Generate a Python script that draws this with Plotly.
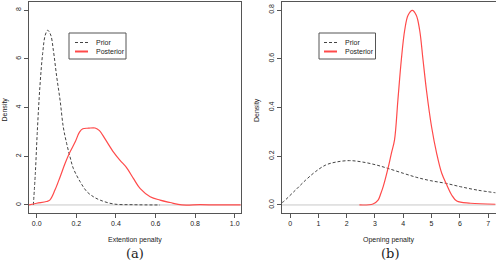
import plotly.graph_objects as go

# ---- Panel (a): Extention penalty ----
prior_a_x = [-0.017, -0.007, 0.0025, 0.016, 0.030, 0.043, 0.0555, 0.071, 0.084, 0.101, 0.118,
             0.134, 0.151, 0.168, 0.185, 0.219, 0.253, 0.286, 0.320, 0.388, 0.489, 0.623]
prior_a_y = [0.0, 1.30, 2.94, 4.85, 6.22, 6.97, 7.17, 6.97, 6.35, 5.26, 4.30,
             3.21, 2.53, 1.98, 1.50, 0.96, 0.55, 0.34, 0.20, 0.04, 0.01, 0.0]
post_a_x = [-0.04, 0.0, 0.049, 0.066, 0.092, 0.118, 0.143, 0.168, 0.194, 0.216, 0.233, 0.261,
            0.295, 0.317, 0.346, 0.388, 0.421, 0.452, 0.489, 0.523, 0.573, 0.623, 0.674,
            0.733, 0.826, 0.91, 1.03]
post_a_y = [0.0, 0.07, 0.14, 0.20, 0.61, 1.15, 1.70, 2.17, 2.58, 2.99, 3.13, 3.15,
            3.16, 3.05, 2.70, 2.17, 1.83, 1.55, 1.08, 0.67, 0.34, 0.20, 0.10,
            0.0, 0.01, 0.0, 0.0]

# ---- Panel (b): Opening penalty ----
prior_b_x = [-0.28, -0.23, 0.19, 0.55, 0.90, 1.26, 1.62, 2.10, 2.57, 3.05, 3.46, 4.0,
             4.48, 4.95, 5.49, 6.02, 6.62, 7.27]
prior_b_y = [0.010, 0.014, 0.061, 0.102, 0.137, 0.164, 0.176, 0.182, 0.176, 0.164, 0.150, 0.130,
             0.113, 0.100, 0.089, 0.075, 0.061, 0.050]
post_b_x = [2.45, 2.93, 3.11, 3.21, 3.29, 3.46, 3.58, 3.69, 3.81, 3.93, 4.05, 4.17, 4.32,
            4.46, 4.58, 4.70, 4.82, 5.0, 5.18, 5.36, 5.54, 5.71, 5.89, 6.38, 7.27]
post_b_y = [0.0, 0.004, 0.02, 0.048, 0.075, 0.150, 0.212, 0.266, 0.430, 0.594, 0.717, 0.779, 0.799,
            0.779, 0.717, 0.594, 0.471, 0.321, 0.212, 0.130, 0.082, 0.041, 0.016, 0.007, 0.003]

x_ticks_a = [0.0, 0.2, 0.4, 0.6, 0.8, 1.0]
x_ticklabels_a = ["0.0", "0.2", "0.4", "0.6", "0.8", "1.0"]
y_ticks_a = [0, 2, 4, 6, 8]
y_ticklabels_a = ["0", "2", "4", "6", "8"]
x_ticks_b = [0, 1, 2, 3, 4, 5, 6, 7]
x_ticklabels_b = ["0", "1", "2", "3", "4", "5", "6", "7"]
y_ticks_b = [0.0, 0.2, 0.4, 0.6, 0.8]
y_ticklabels_b = ["0.0", "0.2", "0.4", "0.6", "0.8"]
legend_labels = ["Prior", "Posterior"]

PRIOR_COLOR = "#444444"
POST_COLOR = "#ff4a4a"
FONT = "Liberation Sans, Arial, sans-serif"
PRIOR_DASH = "3px,2px"

fig = go.Figure()
fig.add_trace(go.Scatter(x=prior_a_x, y=prior_a_y, mode="lines", name="Prior",
                         line=dict(color=PRIOR_COLOR, width=1, dash=PRIOR_DASH, shape="spline"),
                         xaxis="x", yaxis="y"))
fig.add_trace(go.Scatter(x=post_a_x, y=post_a_y, mode="lines", name="Posterior",
                         line=dict(color=POST_COLOR, width=1.2, shape="spline"),
                         xaxis="x", yaxis="y"))
fig.add_trace(go.Scatter(x=prior_b_x, y=prior_b_y, mode="lines", name="Prior",
                         line=dict(color=PRIOR_COLOR, width=1, dash=PRIOR_DASH, shape="spline"),
                         xaxis="x2", yaxis="y2"))
fig.add_trace(go.Scatter(x=post_b_x, y=post_b_y, mode="lines", name="Posterior",
                         line=dict(color=POST_COLOR, width=1.2, shape="spline"),
                         xaxis="x2", yaxis="y2"))

W, H = 496, 268
yd = [1 - 213 / H, 1 - 2 / H]
axis_common = dict(showline=True, linecolor="#555555", linewidth=1, mirror=True,
                   ticks="outside", ticklen=4, tickcolor="#555555", tickwidth=1,
                   showgrid=False, zeroline=False, automargin=False,
                   tickfont=dict(family=FONT, size=7, color="#222222"))

fig.update_layout(
    width=W, height=H,
    margin=dict(l=0, r=0, t=0, b=0, autoexpand=False),
    paper_bgcolor="white", plot_bgcolor="white",
    showlegend=False,
    xaxis=dict(domain=[29 / W, 241 / W], range=[-0.039, 1.032], anchor="y",
               tickvals=x_ticks_a, ticktext=x_ticklabels_a, **axis_common),
    yaxis=dict(domain=yd, range=[-0.33, 8.33], anchor="x",
               tickvals=y_ticks_a, ticktext=y_ticklabels_a, tickangle=-90, **axis_common),
    xaxis2=dict(domain=[282 / W, 495.5 / W], range=[-0.286, 7.26], anchor="y2",
                tickvals=x_ticks_b, ticktext=x_ticklabels_b, **axis_common),
    yaxis2=dict(domain=yd, range=[-0.033, 0.833], anchor="x2",
                tickvals=y_ticks_b, ticktext=y_ticklabels_b, tickangle=-90, **axis_common),
)

# gray baseline at density 0
for xr, yr in (("x", "y"), ("x2", "y2")):
    fig.add_shape(type="line", xref=xr + " domain", yref=yr, x0=0, x1=1, y0=0, y1=0,
                  line=dict(color="#c8c8c8", width=1), layer="below")

def px(x):
    return x / W

def py(y):
    return 1 - y / H

# manual legends (R-style boxed legend)
for bx0, bx1, lx0, lx1, tx in ((69, 126, 75, 88, 94), (319, 375.5, 324, 337, 343)):
    fig.add_shape(type="rect", xref="paper", yref="paper", x0=px(bx0), x1=px(bx1),
                  y0=py(59), y1=py(33), line=dict(color="#555555", width=1),
                  fillcolor="white", layer="above")
    for i, lab in enumerate(legend_labels):
        yy = 42.5 + i * 9
        if i == 0:
            ln = dict(color=PRIOR_COLOR, width=1, dash=PRIOR_DASH)
        else:
            ln = dict(color=POST_COLOR, width=2)
        fig.add_shape(type="line", xref="paper", yref="paper", x0=px(lx0), x1=px(lx1),
                      y0=py(yy), y1=py(yy), line=ln, layer="above")
        fig.add_annotation(text=lab, x=px(tx), y=py(yy), xref="paper", yref="paper",
                           showarrow=False, xanchor="left", yanchor="middle",
                           font=dict(family=FONT, size=7, color="#222222"))

for text, x in (("Extention penalty", 135), ("Opening penalty", 388)):
    fig.add_annotation(text=text, x=px(x), y=py(240), xref="paper", yref="paper",
                       showarrow=False, xanchor="center", yanchor="middle",
                       font=dict(family=FONT, size=7, color="#222222"))
for xpos in (4.5, 257):
    fig.add_annotation(text="Density", x=px(xpos), y=py(110), xref="paper", yref="paper",
                       showarrow=False, textangle=-90, xanchor="center", yanchor="middle",
                       font=dict(family=FONT, size=7, color="#222222"))
for txt, xpos in (("(a)", 135), ("(b)", 390)):
    fig.add_annotation(text=txt, x=px(xpos), y=py(253), xref="paper", yref="paper",
                       showarrow=False, xanchor="center", yanchor="middle",
                       font=dict(family="DejaVu Serif, Liberation Serif, serif", size=13, color="#222222"))

fig.write_html("out.html", config={"displayModeBar": False},
               post_script="document.body.style.margin='0';document.body.style.overflow='hidden';")
